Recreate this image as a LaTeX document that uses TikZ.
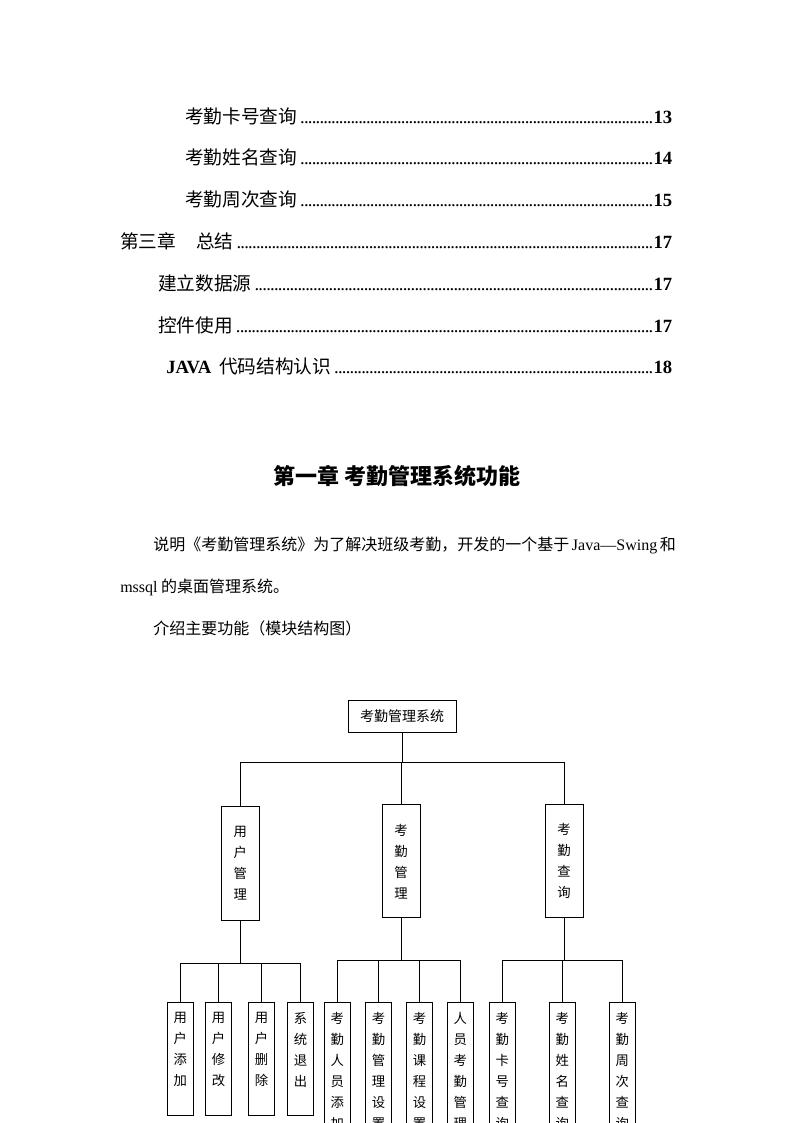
\documentclass[tikz,border=0pt]{standalone}
\usepackage{fontspec}
\setmainfont{Noto Sans CJK SC}
\newfontfamily\latin{Liberation Serif}
\usepackage{tikz}

\newcommand{\tocline}[3]{\hbox to #1{#2\hspace{2.5pt}\xleaders\hbox to 2.9pt{\hss\latin.\hss}\hfill\hspace{0.5pt}{\latin\bfseries #3}}}
\newcommand{\vchars}[2]{\parbox[t][#1][t]{1.3em}{\centering #2}}

\begin{document}
\begin{tikzpicture}[x=0.75pt,y=-0.75pt,
            toc/.style={anchor=base west,inner sep=0pt,font=\fontsize{14}{16}\selectfont},
            body/.style={anchor=base west,inner sep=0pt,font=\fontsize{12}{14}\selectfont},
            topbox/.style={draw,line width=0.75pt,minimum width=81pt,minimum height=24pt,inner sep=0pt,font=\fontsize{10.5}{12}\selectfont},
            midbox/.style={draw,line width=0.75pt,minimum width=28.5pt,minimum height=85pt,inner sep=0pt,align=center,font=\fontsize{10}{15.75}\selectfont},
            leafbox/.style={draw,line width=0.75pt,anchor=north,minimum width=19.5pt,inner xsep=0pt,inner ysep=7.5pt,font=\fontsize{10}{15.75}\selectfont},
            link/.style={line width=0.75pt}]
            \useasboundingbox (0,0) rectangle (794,1123);
            \clip (0,0) rectangle (794,1123);

            \node[toc] (t1) at (185,124) {\tocline{365.25pt}{考勤卡号查询}{13}};
            \node[toc] (t2) at (185,165) {\tocline{365.25pt}{考勤姓名查询}{14}};
            \node[toc] (t3) at (185,207) {\tocline{365.25pt}{考勤周次查询}{15}};
            \node[toc] (t4) at (120,248) {\tocline{414pt}{第三章\hspace{15pt}总结}{17}};
            \node[toc] (t5) at (158,290) {\tocline{385.5pt}{建立数据源}{17}};
            \node[toc] (t6) at (158,332) {\tocline{385.5pt}{控件使用}{17}};
            \node[toc] (t7) at (166,373) {\tocline{379.5pt}{{\latin\bfseries JAVA}\hspace{6pt}代码结构认识}{18}};

            \node[font=\fontsize{16.5}{18}\selectfont\bfseries] (title) at (397,476) {第一章\hspace{4pt}考勤管理系统功能};

            \node[body] (p1) at (153,550) {说明《考勤管理系统》为了解决班级考勤，开发的一个基于\hspace{2pt}{\latin Java—Swing}\hspace{2pt}和};
            \node[body] (p2) at (120,592) {{\latin mssql} 的桌面管理系统。};
            \node[body] (p3) at (153,634) {介绍主要功能（模块结构图）};

            \node[topbox] (sys) at (402,716) {考勤管理系统};

            \node[midbox] (um) at (240.3,863.5) {用\\户\\管\\理};
            \node[midbox] (km) at (401,861.3) {考\\勤\\管\\理};
            \node[midbox] (kq) at (564,861.3) {考\\勤\\查\\询};

            \node[leafbox] (ua) at (180.3,1002) {\vchars{69.5pt}{用\\户\\添\\加}};
            \node[leafbox] (ue) at (218.5,1002) {\vchars{69.5pt}{用\\户\\修\\改}};
            \node[leafbox] (ud) at (261.5,1002) {\vchars{69.5pt}{用\\户\\删\\除}};
            \node[leafbox] (ux) at (300.5,1002) {\vchars{69.5pt}{系\\统\\退\\出}};

            \node[leafbox] (ka) at (337.3,1002) {\vchars{101pt}{考\\勤\\人\\员\\添\\加}};
            \node[leafbox] (ks) at (378.5,1002) {\vchars{101pt}{考\\勤\\管\\理\\设\\置}};
            \node[leafbox] (kc) at (419.5,1002) {\vchars{101pt}{考\\勤\\课\\程\\设\\置}};
            \node[leafbox] (kp) at (460.3,1002) {\vchars{101pt}{人\\员\\考\\勤\\管\\理}};

            \node[leafbox] (qc) at (502.3,1002) {\vchars{101pt}{考\\勤\\卡\\号\\查\\询}};
            \node[leafbox] (qn) at (562.3,1002) {\vchars{101pt}{考\\勤\\姓\\名\\查\\询}};
            \node[leafbox] (qw) at (622.3,1002) {\vchars{101pt}{考\\勤\\周\\次\\查\\询}};

            \foreach \mid in {um,km,kq}
                \draw[link] (sys.south) -- ++(0,30) -| (\mid.north);
            \foreach \leaf in {ua,ue,ud,ux}
                \draw[link] (um.south) -- ++(0,43) -| (\leaf.north);
            \foreach \leaf in {ka,ks,kc,kp}
                \draw[link] (km.south) -- ++(0,42) -| (\leaf.north);
            \foreach \leaf in {qc,qn,qw}
                \draw[link] (kq.south) -- ++(0,42) -| (\leaf.north);
\end{tikzpicture}
\end{document}
